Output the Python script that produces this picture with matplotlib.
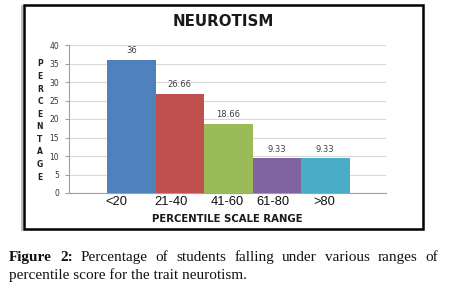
import matplotlib
matplotlib.use('Agg')
import numpy as np
import matplotlib.pyplot as plt
from matplotlib.patches import Rectangle

categories = ['<20', '21-40', '41-60', '61-80', '>80']
percentages = [36, 26.66, 18.66, 9.33, 9.33]
value_labels = ['36', '26.66', '18.66', '9.33', '9.33']
bar_colors = ['#4F81BD', '#C0504D', '#9BBB59', '#8064A2', '#4BACC6']
y_ticks = [0, 5, 10, 15, 20, 25, 30, 35, 40]
title = 'NEUROTISM'
x_title = 'PERCENTILE SCALE RANGE'
y_title = 'PERCENTAGE'
caption_head = 'Figure 2:'
caption_line1 = 'Percentage of students falling under various ranges of'
caption_line2 = 'percentile score for the trait neurotism.'

W, H = 452, 298
NARROW = ['Liberation Sans Narrow', 'Liberation Sans', 'DejaVu Sans']
SERIF = ['Liberation Serif', 'DejaVu Serif']


def fx(px):
    return px / W


def fy(py):
    return 1 - py / H


fig = plt.figure(figsize=(W / 100, H / 100), dpi=100)
fig.patch.set_facecolor('white')

# chart frame with a faint shadow on the left
fig.add_artist(plt.Line2D([fx(22.5), fx(22.5)], [fy(6), fy(230)], color='#b0b0b0', linewidth=1.2))
fig.add_artist(Rectangle((fx(24), fy(229)), fx(423) - fx(24), fy(5) - fy(229),
                         transform=fig.transFigure, fill=False, edgecolor='black', linewidth=1.8))

ax = fig.add_axes([fx(69), fy(193), fx(386) - fx(69), fy(45) - fy(193)])
x = np.arange(len(categories))
bars = ax.bar(x, percentages, width=1.0, color=bar_colors, zorder=3)
ax.bar_label(bars, labels=value_labels, padding=3.5, fontsize=6, color='#404040')

ax.set_xlim(-1.284, 5.252)
ax.set_ylim(0, 40)
ax.set_yticks(y_ticks)
ax.set_yticklabels([str(t) for t in y_ticks], fontsize=5.5, color='#333333')
ax.yaxis.grid(True, color='#d9d9d9', linewidth=0.8, zorder=0)

label_shift = [-0.31, -0.175, -0.02, -0.08, -0.03]
ax.set_xticks(x + np.array(label_shift))
ax.set_xticklabels(categories, fontsize=9.3, family=NARROW, color='#111111')
ax.tick_params(axis='x', length=0, pad=2.5)
ax.tick_params(axis='y', length=3, color='#a0a0a0', pad=4)

for side in ['top', 'right']:
    ax.spines[side].set_visible(False)
for side in ['left', 'bottom']:
    ax.spines[side].set_color('#a0a0a0')
    ax.spines[side].set_linewidth(0.8)

fig.text(fx(223), fy(22), title, ha='center', va='center', fontsize=10.8, fontweight='bold', color='#1a1a1a')
fig.text(fx(227), fy(219), x_title, ha='center', va='center', fontsize=7.3, fontweight='bold', color='#1a1a1a')

for letter, yy in zip(y_title, np.linspace(fy(64), fy(177), len(y_title))):
    fig.text(fx(40), yy, letter, ha='center', va='center', fontsize=5.5, fontweight='bold', color='#222222')

# caption, first line justified between the margins
renderer = fig.canvas.get_renderer()
probe = fig.text(0, 0, caption_line2, fontsize=10, family=SERIF)
natural = probe.get_window_extent(renderer).width
probe.remove()
cap_size = 10 * 236 / natural

words = [(caption_head.split()[0], 'bold'), (caption_head.split()[1], 'bold')]
words += [(w, 'normal') for w in caption_line1.split()]
texts = [fig.text(0, fy(261), w, fontsize=cap_size, family=SERIF, fontweight=wt,
                  va='baseline', ha='left', color='#111111') for w, wt in words]
widths = [t.get_window_extent(renderer).width for t in texts]
gap = (438 - 9 - sum(widths)) / (len(texts) - 1)
pos = 9
for t, w in zip(texts, widths):
    t.set_x(fx(pos))
    pos += w + gap

fig.text(fx(9), fy(279), caption_line2, fontsize=cap_size, family=SERIF,
         va='baseline', ha='left', color='#111111')

fig.savefig('out.png', dpi=100, facecolor='white')
